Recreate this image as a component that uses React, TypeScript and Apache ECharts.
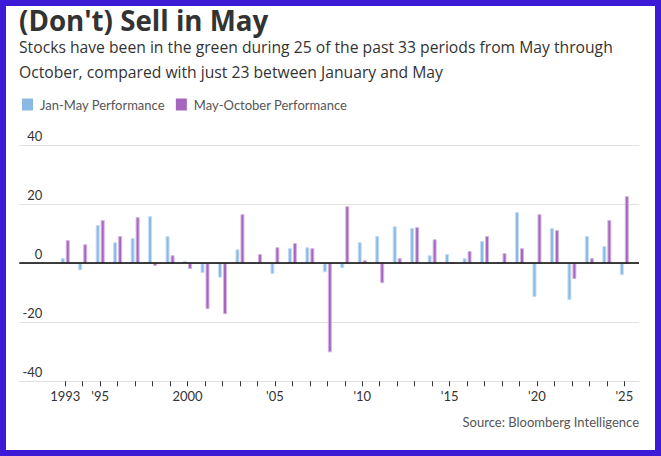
import React, { useEffect, useRef } from "react";
import * as echarts from "echarts";

const years = [
  1993, 1994, 1995, 1996, 1997, 1998, 1999, 2000, 2001, 2002,
  2003, 2004, 2005, 2006, 2007, 2008, 2009, 2010, 2011, 2012,
  2013, 2014, 2015, 2016, 2017, 2018, 2019, 2020, 2021, 2022,
  2023, 2024, 2025,
];
const janMay = [
  1.7, -2.4, 12.9, 7.1, 8.5, 15.9, 9.2, 0.7, -3.4, -4.9,
  4.7, 0.3, -3.7, 5.1, 5.4, -3.1, -1.7, 7.1, 9.2, 12.5,
  11.9, 2.7, 3.1, 1.7, 7.5, 0, 17.3, -11.5, 11.9, -12.5,
  9.2, 5.8, -4.1,
];
const mayOct = [
  7.8, 6.4, 14.6, 9.2, 15.6, -1.0, 2.7, -2.0, -15.6, -17.3,
  16.6, 3.1, 5.4, 6.8, 5.1, -30.2, 19.3, 1.0, -6.8, 1.7,
  12.2, 8.1, 0, 4.1, 9.2, 3.4, 5.1, 16.6, 11.2, -5.4,
  1.7, 14.6, 22.7,
];
const labelYears = [1993, 1995, 2000, 2005, 2010, 2015, 2020, 2025];
const labelTexts = ["1993", "'95", "2000", "'05", "'10", "'15", "'20", "'25"];
const seriesNames = ["Jan-May Performance", "May-October Performance"];
const yTicks = [-40, -20, 0, 20, 40];

const TITLE = "(Don't) Sell in May";
const SUBTITLE =
  "Stocks have been in the green during 25 of the past 33 periods from May through\nOctober, compared with just 23 between January and May";
const SOURCE = "Source: Bloomberg Intelligence";

export default function App() {
  const ref = useRef<HTMLDivElement>(null);
  useEffect(() => {
    if (!ref.current) return;
    const chart = echarts.init(ref.current, null, { renderer: "svg" });
    const lato = "Lato, 'Open Sans', sans-serif";
    const open = "'Open Sans', Lato, sans-serif";
    chart.setOption({
      animation: false,
      backgroundColor: "#ffffff",
      title: [
        {
          text: TITLE,
          left: 19,
          top: 6.5,
          padding: 0,
          textStyle: { fontFamily: open, fontWeight: "bold", fontSize: 27.7, lineHeight: 27, color: "#333333" },
        },
        {
          text: SUBTITLE,
          left: 19,
          top: 34.5,
          padding: 0,
          textStyle: { fontFamily: open, fontWeight: "normal", fontSize: 15.7, lineHeight: 25, color: "#333333" },
        },
        {
          text: SOURCE,
          right: 22,
          top: 413.7,
          padding: 0,
          textStyle: { fontFamily: lato, fontWeight: "normal", fontSize: 13, lineHeight: 16, color: "#555555" },
        },
      ],
      legend: {
        left: 22,
        top: 98,
        padding: 0,
        itemWidth: 11,
        itemHeight: 12,
        itemGap: 11,
        icon: "rect",
        itemStyle: { borderWidth: 0 },
        textStyle: { fontFamily: lato, fontSize: 13, color: "#555555", padding: [0, 0, 0, 2] },
        data: seriesNames,
      },
      grid: { left: 19.3, right: 22, top: 145, bottom: 74.7, containLabel: false },
      xAxis: {
        type: "value",
        min: 1990.37,
        max: 2025.84,
        splitLine: { show: false },
        axisLine: { show: true, onZero: false, lineStyle: { color: "#e0e0e0", width: 1 } },
        axisTick: {
          show: true,
          customValues: years,
          length: 5,
          lineStyle: { color: "#333333", width: 1 },
        },
        axisLabel: {
          customValues: labelYears,
          margin: 8,
          fontFamily: lato,
          fontSize: 13,
          color: "#333333",
          formatter: (v: number) => {
            const i = labelYears.indexOf(Math.round(v));
            return i >= 0 ? labelTexts[i] : "";
          },
        },
      },
      yAxis: {
        type: "value",
        min: yTicks[0],
        max: yTicks[yTicks.length - 1],
        interval: 20,
        axisLine: { show: false },
        axisTick: { show: false },
        splitLine: { show: true, lineStyle: { color: "#e2e2e2", width: 1 } },
        axisLabel: {
          inside: true,
          align: "right",
          margin: 23,
          verticalAlign: "bottom",
          padding: [0, 0, 3, 0],
          fontFamily: lato,
          fontSize: 13,
          color: "#333333",
        },
      },
      series: [
        {
          name: seriesNames[0],
          type: "bar",
          barWidth: 4,
          barGap: "25%",
          data: years.map((y, i) => [y, janMay[i]]),
          itemStyle: { color: "#8ab9e3", borderColor: "#c6def4", borderWidth: 1 },
          markLine: {
            silent: true,
            symbol: "none",
            label: { show: false },
            lineStyle: { color: "#000000", width: 1.5, type: "solid" },
            data: [{ yAxis: 0 }],
            z: 10,
          },
        },
        {
          name: seriesNames[1],
          type: "bar",
          barWidth: 4,
          barGap: "25%",
          data: years.map((y, i) => [y, mayOct[i]]),
          itemStyle: { color: "#a466bf", borderColor: "#d6b6e4", borderWidth: 1 },
        },
      ],
      graphic: [
        {
          type: "rect",
          silent: true,
          z: 100,
          shape: { x: 3, y: 3, width: 655, height: 450 },
          style: { fill: "none", stroke: "#3d1bd6", lineWidth: 6 },
        },
      ],
    });
    return () => chart.dispose();
  }, []);
  return (
    <div
      ref={ref}
      style={{ position: "fixed", left: 0, top: 0, width: 661, height: 456, background: "#fff" }}
    />
  );
}
